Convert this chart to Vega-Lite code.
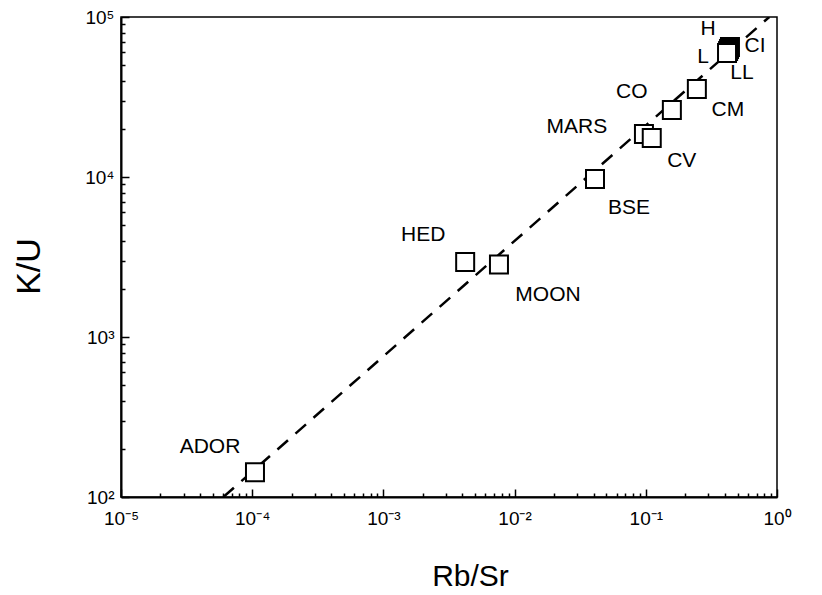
{
  "$schema": "https://vega.github.io/schema/vega-lite/v6.json",
  "width": 656,
  "height": 480,
  "autosize": {"type": "none"},
  "padding": {"left": 121, "top": 17, "right": 45, "bottom": 98},
  "background": "white",
  "config": {
    "view": {"stroke": "black", "strokeWidth": 1.5},
    "font": "Liberation Sans",
    "text": {"font": "Liberation Sans", "fontSize": 21, "color": "black"}
  },
  "datasets": {
    "pts": [
      {"name": "ADOR", "rbsr": 0.000105, "ku": 143},
      {"name": "HED", "rbsr": 0.0042, "ku": 2940},
      {"name": "MOON", "rbsr": 0.0076, "ku": 2840},
      {"name": "BSE", "rbsr": 0.041, "ku": 9720},
      {"name": "MARS", "rbsr": 0.0968, "ku": 18570},
      {"name": "CV", "rbsr": 0.111, "ku": 17530},
      {"name": "CO", "rbsr": 0.158, "ku": 26240},
      {"name": "CM", "rbsr": 0.245, "ku": 35480},
      {"name": "H", "rbsr": 0.438, "ku": 64940},
      {"name": "CI", "rbsr": 0.431, "ku": 63100},
      {"name": "L", "rbsr": 0.424, "ku": 61320},
      {"name": "LL", "rbsr": 0.416, "ku": 59570}
    ],
    "fit": [
      {"rbsr": 0.0000603, "ku": 100},
      {"rbsr": 0.873, "ku": 100000}
    ]
  },
  "encoding": {
    "x": {
      "field": "rbsr", "type": "quantitative",
      "scale": {"type": "log", "domain": [0.00001, 1], "nice": false},
      "axis": {
        "title": "Rb/Sr",
        "titleFont": "Liberation Sans", "titleFontSize": 30, "titleFontWeight": "normal", "titleColor": "black",
        "titleX": 349, "titleY": 79, "titleAlign": "center", "titleBaseline": "middle",
        "grid": false, "domainColor": "black", "domainWidth": 2,
        "ticks": true, "tickColor": "black", "tickWidth": 1.5,
        "tickSize": {"condition": {"test": "abs(log(datum.value)/LN10 - round(log(datum.value)/LN10)) < 0.001", "value": -8}, "value": -4},
        "values": [0.00001,0.00002,0.00003,0.00004,0.00005,0.00006,0.00007,0.00008,0.00009,
                   0.0001,0.0002,0.0003,0.0004,0.0005,0.0006,0.0007,0.0008,0.0009,
                   0.001,0.002,0.003,0.004,0.005,0.006,0.007,0.008,0.009,
                   0.01,0.02,0.03,0.04,0.05,0.06,0.07,0.08,0.09,
                   0.1,0.2,0.3,0.4,0.5,0.6,0.7,0.8,0.9,1],
        "labelExpr": "abs(log(datum.value)/LN10 - round(log(datum.value)/LN10)) > 0.001 ? '' : ['10⁻⁵','10⁻⁴','10⁻³','10⁻²','10⁻¹','10⁰'][round(log(datum.value)/LN10)+5]",
        "labelFont": "Liberation Sans",
        "labelFontSize": 19,
        "labelColor": "black",
        "labelPadding": 20, "labelFlush": false, "labelOverlap": false
      }
    },
    "y": {
      "field": "ku", "type": "quantitative",
      "scale": {"type": "log", "domain": [100, 100000], "nice": false},
      "axis": {
        "title": "K/U",
        "titleFont": "Liberation Sans", "titleFontSize": 34, "titleFontWeight": "normal", "titleColor": "black",
        "titleX": -92, "titleY": 249, "titleAngle": 270, "titleAlign": "center", "titleBaseline": "middle",
        "grid": false, "domainColor": "black", "domainWidth": 2,
        "ticks": true, "tickColor": "black", "tickWidth": 1.5,
        "tickSize": {"condition": {"test": "abs(log(datum.value)/LN10 - round(log(datum.value)/LN10)) < 0.001", "value": -8}, "value": -4},
        "values": [100,200,300,400,500,600,700,800,900,
                   1000,2000,3000,4000,5000,6000,7000,8000,9000,
                   10000,20000,30000,40000,50000,60000,70000,80000,90000,100000],
        "labelExpr": "abs(log(datum.value)/LN10 - round(log(datum.value)/LN10)) > 0.001 ? '' : ['10²','10³','10⁴','10⁵'][round(log(datum.value)/LN10)-2]",
        "labelFont": "Liberation Sans",
        "labelFontSize": 19,
        "labelColor": "black",
        "labelPadding": 15, "labelFlush": false, "labelOverlap": false
      }
    }
  },
  "layer": [
    {
      "data": {"name": "fit"},
      "mark": {"type": "line", "color": "black", "strokeWidth": 2.5, "strokeDash": [14, 10], "clip": true}
    },
    {
      "data": {"name": "pts"},
      "mark": {"type": "point", "shape": "square", "filled": false, "fill": "white", "fillOpacity": 1, "stroke": "black", "strokeWidth": 2, "size": 324, "opacity": 1}
    },
    {"data": {"name": "pts"}, "transform": [{"filter": "datum.name == 'ADOR'"}], "mark": {"type": "text", "dx": -45, "dy": -25}, "encoding": {"text": {"field": "name"}}},
    {"data": {"name": "pts"}, "transform": [{"filter": "datum.name == 'HED'"}], "mark": {"type": "text", "dx": -42, "dy": -27}, "encoding": {"text": {"field": "name"}}},
    {"data": {"name": "pts"}, "transform": [{"filter": "datum.name == 'MOON'"}], "mark": {"type": "text", "dx": 49, "dy": 31}, "encoding": {"text": {"field": "name"}}},
    {"data": {"name": "pts"}, "transform": [{"filter": "datum.name == 'BSE'"}], "mark": {"type": "text", "dx": 34, "dy": 29}, "encoding": {"text": {"field": "name"}}},
    {"data": {"name": "pts"}, "transform": [{"filter": "datum.name == 'MARS'"}], "mark": {"type": "text", "dx": -67, "dy": -7}, "encoding": {"text": {"field": "name"}}},
    {"data": {"name": "pts"}, "transform": [{"filter": "datum.name == 'CV'"}], "mark": {"type": "text", "dx": 30, "dy": 23}, "encoding": {"text": {"field": "name"}}},
    {"data": {"name": "pts"}, "transform": [{"filter": "datum.name == 'CO'"}], "mark": {"type": "text", "dx": -40, "dy": -18}, "encoding": {"text": {"field": "name"}}},
    {"data": {"name": "pts"}, "transform": [{"filter": "datum.name == 'CM'"}], "mark": {"type": "text", "dx": 31, "dy": 21}, "encoding": {"text": {"field": "name"}}},
    {"data": {"name": "pts"}, "transform": [{"filter": "datum.name == 'H'"}], "mark": {"type": "text", "dx": -22, "dy": -18, "stroke": "white", "strokeWidth": 6}, "encoding": {"text": {"field": "name"}}},
    {"data": {"name": "pts"}, "transform": [{"filter": "datum.name == 'H'"}], "mark": {"type": "text", "dx": -22, "dy": -18}, "encoding": {"text": {"field": "name"}}},
    {"data": {"name": "pts"}, "transform": [{"filter": "datum.name == 'CI'"}], "mark": {"type": "text", "dx": 26, "dy": -3}, "encoding": {"text": {"field": "name"}}},
    {"data": {"name": "pts"}, "transform": [{"filter": "datum.name == 'L'"}], "mark": {"type": "text", "dx": -25, "dy": 6}, "encoding": {"text": {"field": "name"}}},
    {"data": {"name": "pts"}, "transform": [{"filter": "datum.name == 'LL'"}], "mark": {"type": "text", "dx": 15, "dy": 20}, "encoding": {"text": {"field": "name"}}}
  ]
}
